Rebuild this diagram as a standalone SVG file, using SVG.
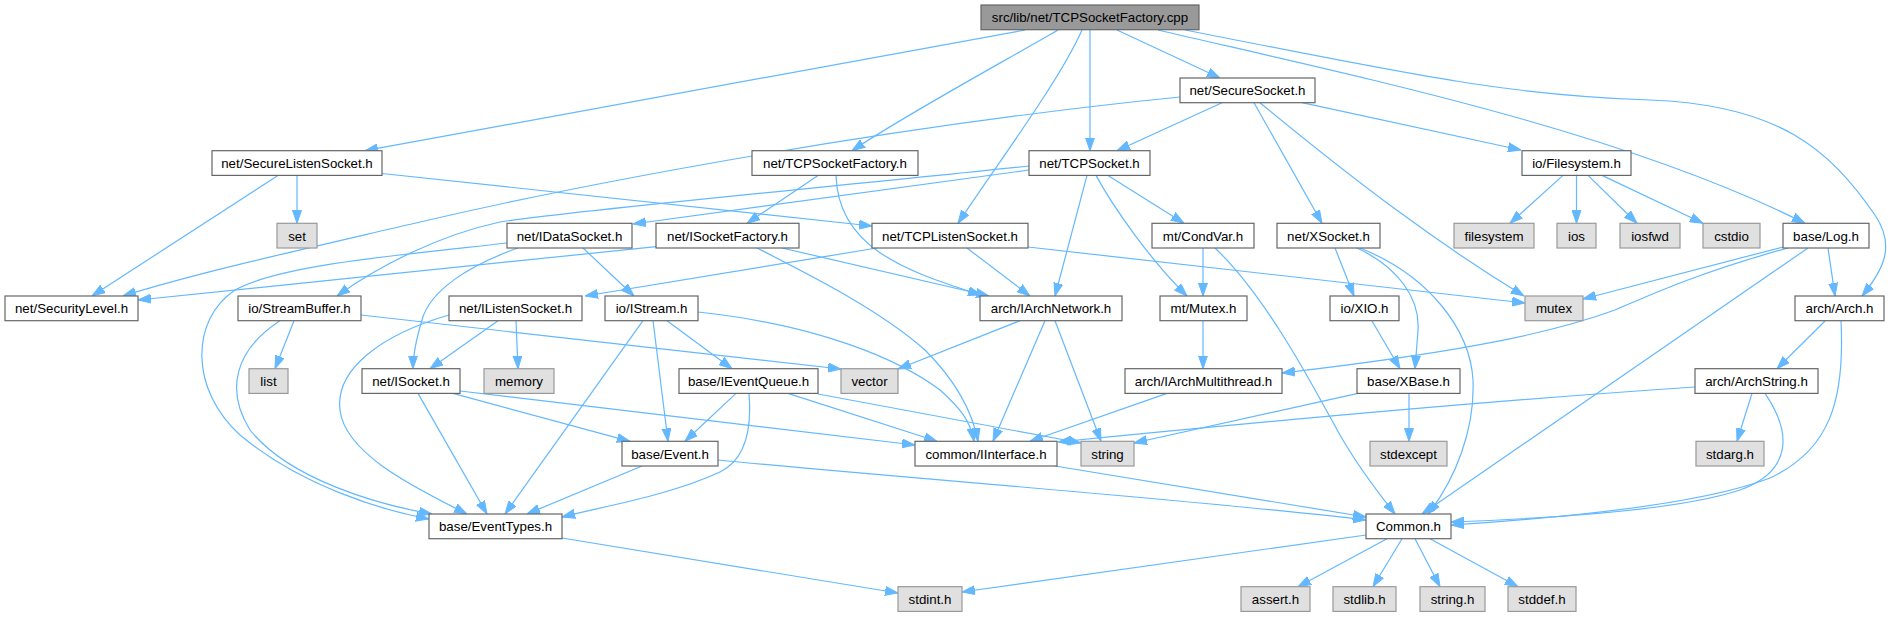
<svg xmlns="http://www.w3.org/2000/svg" width="1891" height="617" viewBox="0 0 1891 617">
<style>
.n rect{fill:#fff;stroke:#666;stroke-width:1.2}
.s rect{fill:#e0e0e0;stroke:#999;stroke-width:1.2}
.r rect{fill:#999;stroke:#666;stroke-width:1.2}
text{font-family:"Liberation Sans",Arial,sans-serif;font-size:13.3px;text-anchor:middle;fill:#000}
#edges path{fill:none;stroke:#63b8ff;stroke-width:1.2;marker-end:url(#a)}
</style>
<defs>
<marker id="a" markerWidth="13" markerHeight="10" refX="13" refY="5" orient="auto" markerUnits="userSpaceOnUse"><path d="M0,0.5 L13,5 L0,9.5 z" fill="#63b8ff" stroke="#63b8ff" stroke-width="1"/></marker>
</defs>
<rect width="1891" height="617" fill="#fff"/>
<g id="edges">
<path d="M1025,30 L365,150.7"/>
<path d="M1058,30 C1010,58 905,115 852,150.7"/>
<path d="M1082,30 C1060,80 1000,160 958,223.3"/>
<path d="M1090,30 L1090,150.7"/>
<path d="M1117,30 L1220,78"/>
<path d="M1158,30 C1350,75 1620,130 1805,223.3"/>
<path d="M1185,30 C1400,72 1500,95 1650,100 C1780,105 1830,150 1875,215 C1895,245 1885,268 1862,296"/>
<path d="M1222,102.7 L1117,150.7"/>
<path d="M1254,102.7 L1322,223.3"/>
<path d="M1260,102.7 C1360,185 1440,245 1524,296"/>
<path d="M1302,102.7 L1521,150"/>
<path d="M1180,97 C900,125 600,180 420,222 C300,250 200,272 123,296"/>
<path d="M297,175.4 L297,223.3"/>
<path d="M278,175.4 L92,296"/>
<path d="M382,173.5 L872,226"/>
<path d="M818,175.4 L747,223.3"/>
<path d="M836,175.4 C838,245 900,270 981,295"/>
<path d="M656,246.7 L138,300"/>
<path d="M782,248 L989,296"/>
<path d="M757,248 C810,275 880,310 925,350 C955,380 972,410 978,441.3"/>
<path d="M877,248 L585,296"/>
<path d="M967,248 L1030,296"/>
<path d="M1028,247 L1525,303"/>
<path d="M1029,170 L633,224"/>
<path d="M1029,166 C800,190 560,212 500,222 C440,235 380,265 337,296"/>
<path d="M1087,175.4 L1055,296"/>
<path d="M1096,175.4 C1112,205 1150,260 1187,296"/>
<path d="M1108,175.4 L1184,223.3"/>
<path d="M1203,248 L1203,296"/>
<path d="M1215,248 C1270,300 1320,400 1340,435 C1360,470 1380,495 1395,514"/>
<path d="M1335,248 L1354,296"/>
<path d="M1357,248 C1400,268 1420,300 1418,330 C1417,345 1416,355 1415,368.7"/>
<path d="M1360,248 C1430,276 1470,330 1473,380 C1475,430 1455,480 1428,514"/>
<path d="M1563,175.4 L1510,223.3"/>
<path d="M1576.5,175.4 L1576.5,223.3"/>
<path d="M1588,175.4 L1637,223.3"/>
<path d="M1602,175.4 L1703,223.3"/>
<path d="M1783,247 L1583,299"/>
<path d="M1788,248 C1700,272 1650,295 1615,310 C1560,330 1480,350 1282,373"/>
<path d="M1808,248 L1422,514"/>
<path d="M1828,248 L1835,296"/>
<path d="M1825,321 L1777,368.7"/>
<path d="M1841,321 C1845,400 1830,450 1770,478 C1700,505 1560,518 1451,525"/>
<path d="M1752,393.4 L1737,441.3"/>
<path d="M1765,393.4 C1790,430 1795,470 1740,490 C1680,510 1560,518 1451,522"/>
<path d="M1695,387 C1500,400 1300,418 1058,442"/>
<path d="M1372,321 L1400,368.7"/>
<path d="M1358,393.4 L1134,443"/>
<path d="M1409,393.4 L1409,441.3"/>
<path d="M1203,320.7 L1203,368.7"/>
<path d="M1167,393.4 L1030,441.3"/>
<path d="M1020,320.7 L898,369"/>
<path d="M1045,320.7 L993,441.3"/>
<path d="M1055,320.7 L1101,441.3"/>
<path d="M1055,466 L1366,517"/>
<path d="M718,460 C900,478 1200,500 1366,520"/>
<path d="M642,466 L527,514"/>
<path d="M643,320.7 L505,514"/>
<path d="M653,320.7 L668,441.3"/>
<path d="M667,320.7 L732,368.7"/>
<path d="M698,312 C820,325 900,360 940,390 C960,408 970,420 974,441.3"/>
<path d="M736,393.4 L685,441.3"/>
<path d="M749,393.4 C752,430 745,460 720,472 C670,495 610,505 562,517"/>
<path d="M788,393.4 L937,441.3"/>
<path d="M818,394 L1081,443"/>
<path d="M498,320.7 L430,368.7"/>
<path d="M516,320.7 L518,368.7"/>
<path d="M449,315 C380,335 335,370 340,410 C345,455 420,490 467,514"/>
<path d="M453,393.4 L630,441.3"/>
<path d="M460,391 L915,445"/>
<path d="M418,393.4 L487,514"/>
<path d="M294,320.7 L275,368.7"/>
<path d="M361,315 L841,369"/>
<path d="M280,320.7 C235,350 225,390 250,430 C290,480 380,505 432,514"/>
<path d="M518,248 C470,265 430,290 422,320 C416,340 413,355 413,368.7"/>
<path d="M583,248 L634,296"/>
<path d="M507,243 C400,255 280,265 235,290 C190,320 190,390 240,435 C300,485 380,510 429,519"/>
<path d="M562,538 L898,593"/>
<path d="M1366,535 L962,592"/>
<path d="M1387,538.7 L1298,586.7"/>
<path d="M1402,538.7 L1373,586.7"/>
<path d="M1415,538.7 L1440,586.7"/>
<path d="M1430,538.7 L1518,586.7"/>
</g>
<g id="root" class="r"><rect x="981" y="5" width="218" height="24.7"/><text x="1090" y="22.2">src/lib/net/TCPSocketFactory.cpp</text></g>
<g id="SecureSocket" class="n"><rect x="1180" y="78" width="135" height="24.7"/><text x="1247.5" y="95.2">net/SecureSocket.h</text></g>
<g id="SecureListenSocket" class="n"><rect x="212" y="150.7" width="170" height="24.7"/><text x="297" y="167.9">net/SecureListenSocket.h</text></g>
<g id="TCPSocketFactoryH" class="n"><rect x="752" y="150.7" width="166" height="24.7"/><text x="835" y="167.9">net/TCPSocketFactory.h</text></g>
<g id="TCPSocket" class="n"><rect x="1029" y="150.7" width="121" height="24.7"/><text x="1089.5" y="167.9">net/TCPSocket.h</text></g>
<g id="FilesystemH" class="n"><rect x="1522" y="150.7" width="109" height="24.7"/><text x="1576.5" y="167.9">io/Filesystem.h</text></g>
<g id="set" class="s"><rect x="277" y="223.3" width="40" height="24.7"/><text x="297" y="240.5">set</text></g>
<g id="IDataSocket" class="n"><rect x="507" y="223.3" width="125" height="24.7"/><text x="569.5" y="240.5">net/IDataSocket.h</text></g>
<g id="ISocketFactory" class="n"><rect x="656" y="223.3" width="143" height="24.7"/><text x="727.5" y="240.5">net/ISocketFactory.h</text></g>
<g id="TCPListenSocket" class="n"><rect x="872" y="223.3" width="156" height="24.7"/><text x="950" y="240.5">net/TCPListenSocket.h</text></g>
<g id="CondVar" class="n"><rect x="1152" y="223.3" width="102" height="24.7"/><text x="1203" y="240.5">mt/CondVar.h</text></g>
<g id="XSocket" class="n"><rect x="1277" y="223.3" width="103" height="24.7"/><text x="1328.5" y="240.5">net/XSocket.h</text></g>
<g id="filesystem" class="s"><rect x="1454" y="223.3" width="80" height="24.7"/><text x="1494" y="240.5">filesystem</text></g>
<g id="ios" class="s"><rect x="1557" y="223.3" width="39" height="24.7"/><text x="1576.5" y="240.5">ios</text></g>
<g id="iosfwd" class="s"><rect x="1620" y="223.3" width="60" height="24.7"/><text x="1650" y="240.5">iosfwd</text></g>
<g id="cstdio" class="s"><rect x="1703" y="223.3" width="57" height="24.7"/><text x="1731.5" y="240.5">cstdio</text></g>
<g id="Log" class="n"><rect x="1783" y="223.3" width="86" height="24.7"/><text x="1826" y="240.5">base/Log.h</text></g>
<g id="SecurityLevel" class="n"><rect x="5" y="296" width="133" height="24.7"/><text x="71.5" y="313.2">net/SecurityLevel.h</text></g>
<g id="StreamBuffer" class="n"><rect x="238" y="296" width="123" height="24.7"/><text x="299.5" y="313.2">io/StreamBuffer.h</text></g>
<g id="IListenSocket" class="n"><rect x="449" y="296" width="133" height="24.7"/><text x="515.5" y="313.2">net/IListenSocket.h</text></g>
<g id="IStream" class="n"><rect x="605" y="296" width="93" height="24.7"/><text x="651.5" y="313.2">io/IStream.h</text></g>
<g id="IArchNetwork" class="n"><rect x="980" y="296" width="142" height="24.7"/><text x="1051" y="313.2">arch/IArchNetwork.h</text></g>
<g id="Mutex" class="n"><rect x="1160" y="296" width="87" height="24.7"/><text x="1203.5" y="313.2">mt/Mutex.h</text></g>
<g id="XIO" class="n"><rect x="1330" y="296" width="69" height="24.7"/><text x="1364.5" y="313.2">io/XIO.h</text></g>
<g id="mutex" class="s"><rect x="1525" y="296" width="58" height="24.7"/><text x="1554" y="313.2">mutex</text></g>
<g id="Arch" class="n"><rect x="1795" y="296" width="89" height="24.7"/><text x="1839.5" y="313.2">arch/Arch.h</text></g>
<g id="list" class="s"><rect x="249" y="368.7" width="39" height="24.7"/><text x="268.5" y="385.9">list</text></g>
<g id="ISocket" class="n"><rect x="362" y="368.7" width="98" height="24.7"/><text x="411" y="385.9">net/ISocket.h</text></g>
<g id="memory" class="s"><rect x="484" y="368.7" width="70" height="24.7"/><text x="519" y="385.9">memory</text></g>
<g id="IEventQueue" class="n"><rect x="679" y="368.7" width="139" height="24.7"/><text x="748.5" y="385.9">base/IEventQueue.h</text></g>
<g id="vector" class="s"><rect x="841" y="368.7" width="57" height="24.7"/><text x="869.5" y="385.9">vector</text></g>
<g id="IArchMultithread" class="n"><rect x="1125" y="368.7" width="157" height="24.7"/><text x="1203.5" y="385.9">arch/IArchMultithread.h</text></g>
<g id="XBase" class="n"><rect x="1357" y="368.7" width="103" height="24.7"/><text x="1408.5" y="385.9">base/XBase.h</text></g>
<g id="ArchString" class="n"><rect x="1695" y="368.7" width="123" height="24.7"/><text x="1756.5" y="385.9">arch/ArchString.h</text></g>
<g id="Event" class="n"><rect x="622" y="441.3" width="96" height="24.7"/><text x="670" y="458.5">base/Event.h</text></g>
<g id="IInterface" class="n"><rect x="915" y="441.3" width="142" height="24.7"/><text x="986" y="458.5">common/IInterface.h</text></g>
<g id="string" class="s"><rect x="1081" y="441.3" width="53" height="24.7"/><text x="1107.5" y="458.5">string</text></g>
<g id="stdexcept" class="s"><rect x="1370" y="441.3" width="77" height="24.7"/><text x="1408.5" y="458.5">stdexcept</text></g>
<g id="stdarg" class="s"><rect x="1696" y="441.3" width="68" height="24.7"/><text x="1730" y="458.5">stdarg.h</text></g>
<g id="EventTypes" class="n"><rect x="429" y="514" width="133" height="24.7"/><text x="495.5" y="531.2">base/EventTypes.h</text></g>
<g id="Common" class="n"><rect x="1366" y="514" width="85" height="24.7"/><text x="1408.5" y="531.2">Common.h</text></g>
<g id="stdint" class="s"><rect x="898" y="586.7" width="64" height="24.7"/><text x="930" y="603.9">stdint.h</text></g>
<g id="assert" class="s"><rect x="1241" y="586.7" width="69" height="24.7"/><text x="1275.5" y="603.9">assert.h</text></g>
<g id="stdlib" class="s"><rect x="1333" y="586.7" width="63" height="24.7"/><text x="1364.5" y="603.9">stdlib.h</text></g>
<g id="stringh" class="s"><rect x="1420" y="586.7" width="65" height="24.7"/><text x="1452.5" y="603.9">string.h</text></g>
<g id="stddef" class="s"><rect x="1508" y="586.7" width="68" height="24.7"/><text x="1542" y="603.9">stddef.h</text></g>
</svg>
